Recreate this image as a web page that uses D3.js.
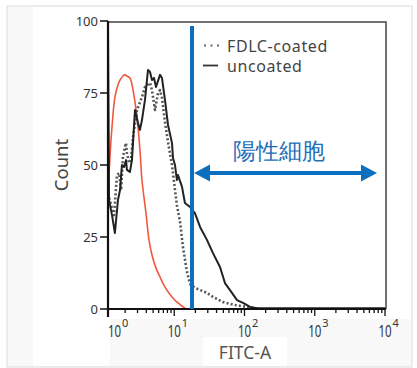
<!DOCTYPE html>
<html>
<head>
<meta charset="utf-8">
<script src="https://cdn.jsdelivr.net/npm/d3@7"></script>
<style>
  body { margin: 0; background: #fff; }
  svg { display: block; }
  text { font-family: "Noto Sans", "Liberation Sans", Arial, sans-serif; }
</style>
</head>
<body>
<svg id="chart" width="417" height="368"></svg>
<script>
// ---------------- data ----------------
const uncoatedX = [1.14, 1.18, 1.30, 1.43, 1.58, 1.69, 1.80, 1.93, 2.06, 2.12, 2.34, 2.50, 2.76, 3.05, 3.25, 3.47, 3.83, 4.23, 4.52, 4.82, 5.15, 5.50, 6.27, 6.69, 7.38, 8.15, 9.29, 9.60, 10.25, 10.9, 11.3, 12.9, 14.2, 16.8, 19.7, 23.3, 29.2, 35.6, 44.8, 52.7, 66.3, 78.2, 95.2, 120, 151, 10000];
const uncoatedY = [97.2, 37.8, 32.6, 26.4, 37.8, 41.3, 50.0, 49.3, 51.7, 48.3, 47.6, 51.7, 69.1, 64.6, 62.2, 65.6, 72.6, 83.0, 82.3, 79.5, 80.2, 77.1, 81.3, 80.2, 72.6, 63.9, 57.6, 52.4, 50.0, 44.8, 46.5, 42.4, 36.8, 35.4, 33.3, 28.5, 24.0, 19.4, 14.6, 9.0, 5.6, 3.1, 2.1, 0.7, 0.3, 0.3];

const coatedX = [1.14, 1.26, 1.39, 1.53, 1.64, 1.75, 1.86, 1.99, 2.06, 2.12, 2.27, 2.42, 2.59, 2.95, 3.47, 3.83, 4.09, 4.52, 4.82, 5.32, 5.87, 6.27, 6.69, 7.38, 8.15, 9.29, 10.25, 10.9, 12.1, 13.3, 15.2, 16.8, 19.7, 23.3, 29.2, 35.6, 49.4, 73.3, 109, 166];
const coatedY = [40, 36.1, 32.6, 46.5, 47.2, 41.3, 52.8, 56.3, 57.6, 54.2, 50.7, 51.7, 59.7, 69.1, 73.6, 77.1, 77.8, 78.5, 76.0, 69.1, 75.0, 76.0, 73.3, 64.9, 58.0, 50.0, 41.3, 36.1, 30.2, 21.5, 12.8, 8.7, 7.3, 6.6, 5.6, 4.2, 2.4, 1.4, 0.7, 0];

const controlX = [1.14, 1.22, 1.30, 1.43, 1.58, 1.69, 1.86, 1.99, 2.12, 2.34, 2.59, 2.76, 2.95, 3.25, 3.47, 3.96, 4.37, 4.82, 5.50, 6.27, 7.38, 9.29, 11.3, 14.2, 15.2];
const controlY = [39.6, 53.5, 63.2, 73.6, 77.8, 79.5, 80.9, 81.3, 80.9, 80.2, 76.0, 71.9, 66.7, 55.2, 44.8, 33.3, 24.0, 18.75, 14.2, 11.1, 7.6, 4.2, 2.1, 0.3, 0];

const yTicks = [0, 25, 50, 75, 100];
const xMajorExps = [0, 1, 2, 3, 4];
const legendLabels = ["FDLC-coated", "uncoated"];
const gateValue = 17.9;
const gateTop = 98.3;
const positiveLabel = "陽性細胞";
const xTitle = "FITC-A";
const yTitle = "Count";

// ---------------- layout ----------------
const svg = d3.select("#chart");
const x = d3.scaleLog().domain([1, 10000]).range([104, 385]);
const y = d3.scaleLinear().domain([0, 100]).range([309, 21]);
const plotLeft = 108, plotRight = 386;

// background panels
svg.append("rect").attr("x", 7).attr("y", 6).attr("width", 405).attr("height", 361)
  .attr("fill", "#f8f8f8").attr("stroke", "#dcdcdc").attr("stroke-width", 1);
svg.append("rect").attr("x", 33).attr("y", 7).attr("width", 77).attr("height", 359).attr("fill", "#fff");
svg.append("rect").attr("x", 110).attr("y", 7).attr("width", 301).attr("height", 312).attr("fill", "#fff");
svg.append("rect").attr("x", 203).attr("y", 337).attr("width", 84).attr("height", 29).attr("fill", "#fff");

// clip
svg.append("clipPath").attr("id", "plotclip").append("rect")
  .attr("x", plotLeft).attr("y", 18).attr("width", plotRight - plotLeft).attr("height", 292);

const toPts = (xs, ys) => xs.map((v, i) => [v, ys[i]]);
const lineLin = d3.line().x(d => x(d[0])).y(d => y(d[1]));
const lineSmooth = d3.line().x(d => x(d[0])).y(d => y(d[1])).curve(d3.curveCatmullRom.alpha(0.5));

const plot = svg.append("g").attr("clip-path", "url(#plotclip)");

plot.append("path").datum(toPts(controlX, controlY)).attr("d", lineSmooth)
  .attr("fill", "none").attr("stroke", "#f0583e").attr("stroke-width", 1.6);

plot.append("path").datum(toPts(coatedX, coatedY)).attr("d", lineLin)
  .attr("fill", "none").attr("stroke", "#555").attr("stroke-width", 2.6)
  .attr("stroke-dasharray", "2,2.2").attr("stroke-linejoin", "round");

plot.append("path").datum(toPts(uncoatedX, uncoatedY)).attr("d", lineLin)
  .attr("fill", "none").attr("stroke", "#222").attr("stroke-width", 2).attr("stroke-linejoin", "round");

// frame (top and right)
svg.append("path")
  .attr("d", `M${plotLeft},${y(100) + 1}H${plotRight}V${y(0)}`)
  .attr("fill", "none").attr("stroke", "#444").attr("stroke-width", 1.5);

// y axis
svg.append("line").attr("x1", plotLeft).attr("x2", plotLeft).attr("y1", y(100)).attr("y2", y(0) + 8)
  .attr("stroke", "#111").attr("stroke-width", 2.2);
yTicks.forEach(t => {
  svg.append("line").attr("x1", plotLeft - 8).attr("x2", plotLeft).attr("y1", y(t)).attr("y2", y(t))
    .attr("stroke", "#111").attr("stroke-width", 1.5);
  svg.append("text").attr("x", 98).attr("y", y(t) + 4.5).attr("text-anchor", "end")
    .attr("font-size", 13).attr("fill", "#333").text(t);
});

// x axis
svg.append("line").attr("x1", plotLeft).attr("x2", plotRight).attr("y1", y(0)).attr("y2", y(0))
  .attr("stroke", "#111").attr("stroke-width", 2);
x.ticks().filter(v => x(v) >= plotLeft + 1).forEach(v => {
  const major = Math.abs(Math.log10(v) - Math.round(Math.log10(v))) < 1e-9;
  svg.append("line").attr("x1", x(v)).attr("x2", x(v)).attr("y1", y(0)).attr("y2", y(0) + (major ? 7 : 4))
    .attr("stroke", "#111").attr("stroke-width", 1.3);
});
xMajorExps.forEach(e => {
  const cx = Math.max(x(Math.pow(10, e)), 114.5);
  const g = svg.append("g").attr("transform", `translate(${cx},337)`);
  g.append("text").attr("transform", "scale(0.72,1)").attr("text-anchor", "middle")
    .attr("font-size", 16).attr("fill", "#333")
    .attr("font-family", "Liberation Sans, Arial, sans-serif").text("10");
  g.append("text").attr("x", 7.5).attr("y", -10).attr("font-size", 11).attr("fill", "#333")
    .attr("font-family", "Liberation Sans, Arial, sans-serif").text(e);
});

// axis titles
svg.append("text").attr("x", 245).attr("y", 359).attr("text-anchor", "middle")
  .attr("font-family", "DejaVu Sans, sans-serif")
  .attr("font-size", 17.5).attr("fill", "#555").text(xTitle);
svg.append("text").attr("transform", `translate(68,${y(50)}) rotate(-90)`).attr("text-anchor", "middle")
  .attr("font-size", 18.5).attr("fill", "#444").text(yTitle);

// gate line
const blue = "#0b6fc0";
svg.append("line").attr("x1", x(gateValue)).attr("x2", x(gateValue)).attr("y1", y(gateTop)).attr("y2", y(0))
  .attr("stroke", blue).attr("stroke-width", 4);

// double arrow
const ay = 173, aL = x(gateValue) + 2, aR = x(10000) - 8, head = 16, hw = 8.5;
svg.append("line").attr("x1", aL + head - 2).attr("x2", aR - head + 2).attr("y1", ay).attr("y2", ay)
  .attr("stroke", blue).attr("stroke-width", 4);
svg.append("path").attr("d", `M${aL},${ay}L${aL + head},${ay - hw}L${aL + head},${ay + hw}Z`).attr("fill", blue);
svg.append("path").attr("d", `M${aR},${ay}L${aR - head},${ay - hw}L${aR - head},${ay + hw}Z`).attr("fill", blue);
svg.append("text").attr("x", 279).attr("y", 159).attr("text-anchor", "middle")
  .attr("font-family", "Noto Sans CJK JP, sans-serif").attr("font-size", 23).attr("fill", "#1f6fb8")
  .text(positiveLabel);

// legend
svg.append("line").attr("x1", 204).attr("x2", 222).attr("y1", 45.5).attr("y2", 45.5)
  .attr("stroke", "#666").attr("stroke-width", 2).attr("stroke-dasharray", "2,4.5");
svg.append("line").attr("x1", 203).attr("x2", 218).attr("y1", 65.5).attr("y2", 65.5)
  .attr("stroke", "#333").attr("stroke-width", 1.8);
legendLabels.forEach((l, i) => {
  svg.append("text").attr("x", 227).attr("y", 51.5 + i * 20.5).attr("font-family", "DejaVu Sans, sans-serif")
    .attr("font-size", 16).attr("letter-spacing", 0.6).attr("fill", "#444").text(l);
});
</script>
</body>
</html>
